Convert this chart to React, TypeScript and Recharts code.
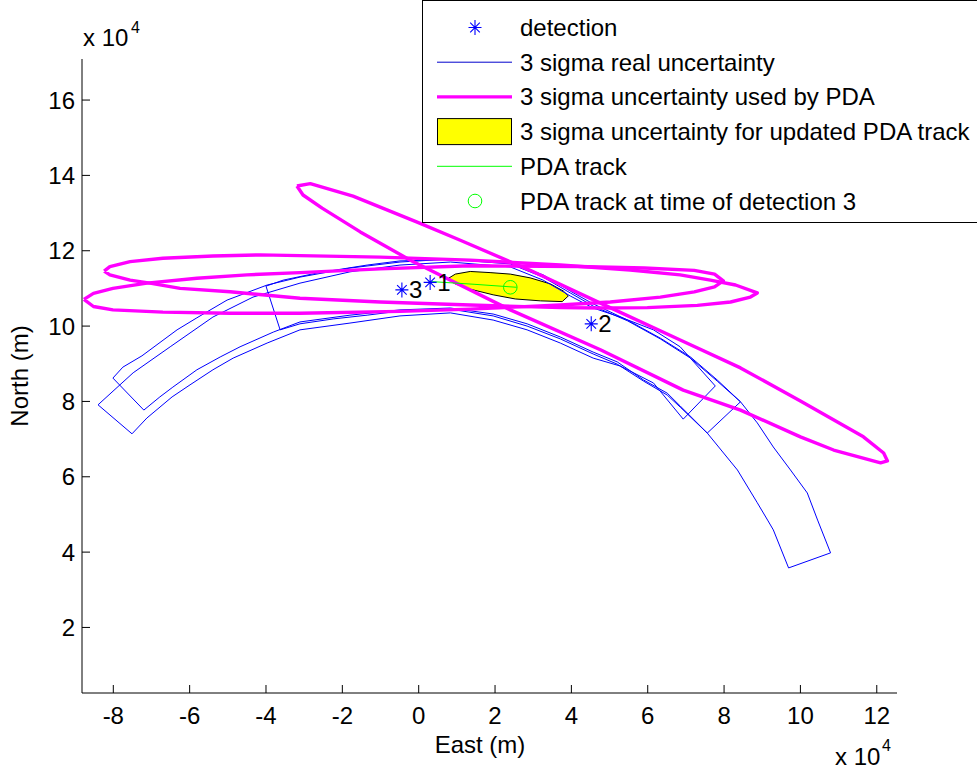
import { Scatter, ScatterChart, XAxis, YAxis } from 'recharts'

// all positions in units of 10^4 m
type Pt = [number, number]

const W = 977
const H = 771
const FONT = '"Liberation Sans", Arial, Helvetica, sans-serif'
const FS = 24

const eastTicks = [-8, -6, -4, -2, 0, 2, 4, 6, 8, 10, 12]
const northTicks = [2, 4, 6, 8, 10, 12, 14, 16]
const eastDomain: [number, number] = [-8.82, 12.53]
const northDomain: [number, number] = [0.26, 17.09]

const detectionEast = [0.3, 4.52, -0.44]
const detectionNorth = [11.16, 10.06, 10.96]
const detectionIds = ['1', '2', '3']

// 3 sigma real uncertainty swaths
const realSwathEarly: Pt[] = [
  [-8.4, 7.91], [-7.48, 8.76], [-6.51, 9.45], [-5.39, 10.24], [-4.34, 10.77], [-3.11, 11.14],
  [-1.8, 11.44], [-0.49, 11.62], [0.83, 11.7], [2.4, 11.57], [3.26, 11.22], [3.97, 10.8],
  [4.57, 10.48], [5.28, 10.24], [6.15, 9.9], [6.85, 9.45], [7.77, 8.41], [6.93, 7.53],
  [6.15, 8.49], [5.28, 8.94], [4.57, 9.15], [3.71, 9.55], [2.84, 9.9], [1.95, 10.16],
  [0.83, 10.35], [-0.49, 10.27], [-1.8, 10.08], [-3.11, 9.9], [-3.97, 9.55], [-4.86, 9.15],
  [-5.39, 8.84], [-5.99, 8.44], [-6.46, 8.12], [-7.12, 7.56], [-7.51, 7.14],
]
const realSwathMid: Pt[] = [
  [-8.01, 8.62], [-7.75, 8.91], [-7.25, 9.21], [-6.33, 9.9], [-5.81, 10.22], [-5.02, 10.69],
  [-3.97, 11.09], [-3.11, 11.3], [-1.8, 11.54], [-0.49, 11.7], [0.83, 11.78], [2.4, 11.67],
  [3.26, 11.36], [3.97, 10.93], [4.57, 10.59], [5.47, 10.16], [6.33, 9.68], [7.12, 9.18],
  [7.82, 8.57], [8.43, 7.99], [7.56, 7.16], [6.85, 7.88], [6.51, 8.22], [5.89, 8.57],
  [5.2, 9.05], [4.57, 9.31], [3.71, 9.71], [2.84, 10.06], [1.95, 10.32], [0.83, 10.48],
  [-0.49, 10.43], [-1.8, 10.29], [-3.11, 10.11], [-3.81, 9.84], [-4.68, 9.45], [-5.2, 9.18],
  [-5.81, 8.84], [-6.44, 8.38], [-6.78, 8.12], [-7.2, 7.77],
]
const realSwathLate: Pt[] = [
  [-4.0, 11.06], [-3.55, 11.22], [-2.66, 11.41], [-1.35, 11.62], [-0.49, 11.73], [0.83, 11.77],
  [2.4, 11.65], [3.26, 11.3], [3.97, 10.88], [4.57, 10.53], [5.47, 10.14], [6.33, 9.66],
  [7.12, 9.15], [7.82, 8.54], [8.43, 7.99], [8.87, 7.43], [9.29, 6.79], [9.74, 6.18],
  [10.18, 5.57], [10.45, 4.85], [10.79, 3.98], [9.69, 3.58], [9.29, 4.59], [9.14, 4.85],
  [8.87, 5.31], [8.35, 6.18], [7.56, 7.16], [6.85, 7.85], [6.51, 8.17], [5.89, 8.54],
  [5.2, 8.99], [4.57, 9.26], [3.71, 9.66], [2.84, 10.0], [1.95, 10.27], [0.83, 10.45],
  [-0.49, 10.4], [-1.35, 10.29], [-2.24, 10.19], [-3.11, 10.06], [-3.63, 9.9],
]

// 3 sigma gates used by the PDA
const pdaGateUpper: Pt[] = [
  [-8.24, 11.46], [-8.09, 11.58], [-7.56, 11.71], [-6.7, 11.8], [-5.39, 11.86], [-4.16, 11.89],
  [-3.11, 11.87], [-1.01, 11.83], [1.35, 11.75], [3.71, 11.62], [5.54, 11.49], [6.85, 11.36],
  [7.64, 11.22], [8.3, 11.09], [8.87, 10.88], [8.69, 10.77], [8.17, 10.64], [7.3, 10.55],
  [5.99, 10.49], [4.76, 10.48], [3.71, 10.49], [1.35, 10.56], [-1.01, 10.64], [-3.11, 10.74],
  [-4.94, 10.91], [-6.25, 11.0], [-7.04, 11.14], [-7.56, 11.22], [-8.09, 11.36],
]
const pdaGateLower: Pt[] = [
  [-8.77, 10.71], [-8.52, 10.87], [-8.01, 11.0], [-7.12, 11.14], [-5.81, 11.27], [-4.5, 11.36],
  [-3.11, 11.42], [-1.01, 11.52], [1.35, 11.6], [4.16, 11.58], [5.91, 11.54], [7.22, 11.48],
  [7.75, 11.38], [7.98, 11.2], [7.75, 11.04], [7.22, 10.91], [6.33, 10.77], [5.02, 10.64],
  [3.71, 10.56], [1.35, 10.45], [-0.49, 10.39], [-3.11, 10.34], [-4.94, 10.34], [-6.7, 10.37],
  [-8.01, 10.43], [-8.52, 10.52],
]
const pdaGateTilted: Pt[] = [
  [-3.19, 13.72], [-2.84, 13.78], [-1.72, 13.45], [-0.04, 12.76], [1.09, 12.28], [2.92, 11.48],
  [4.76, 10.61], [6.85, 9.63], [8.43, 8.89], [10.0, 8.01], [11.65, 7.06], [12.18, 6.63],
  [12.28, 6.42], [12.1, 6.37], [10.87, 6.71], [10.0, 7.06], [8.43, 7.77], [6.93, 8.3],
  [4.76, 9.37], [2.4, 10.43], [-0.22, 11.75], [-1.53, 12.5], [-2.53, 13.13], [-3.03, 13.48],
]

// gate after the PDA update
const updatedGate: Pt[] = [
  [0.75, 11.25], [0.96, 11.38], [1.35, 11.45], [1.87, 11.42], [2.4, 11.38], [2.92, 11.28],
  [3.45, 11.12], [3.79, 10.93], [3.92, 10.8], [3.76, 10.65], [3.19, 10.67], [2.53, 10.72],
  [1.95, 10.83], [1.35, 10.98], [0.96, 11.12],
]

const pdaTrack: Pt[] = [[0.35, 11.18], [1.45, 11.11], [2.57, 11.03]]
const pdaAtDetection3: Pt[] = [[2.4, 11.03]]

const toRows = (pts: Pt[]) => pts.map(([x, y]) => ({ x, y }))
const closed = (pts: Pt[]) => toRows([...pts, pts[0]])

const detections = detectionEast.map((x, i) => ({ x, y: detectionNorth[i], id: detectionIds[i] }))

const NoMarker = () => <g />

const starPath = (cx: number, cy: number) =>
  `M${cx},${cy - 7.5}V${cy + 7.5}M${cx - 6.5},${cy}H${cx + 6.5}` +
  `M${cx - 4.8},${cy - 4.8}L${cx + 4.8},${cy + 4.8}M${cx - 4.8},${cy + 4.8}L${cx + 4.8},${cy - 4.8}`

const DetectionMark = (props: any) => {
  const { cx, cy, payload } = props
  return (
    <g>
      <path d={starPath(cx, cy)} stroke="#0000ff" strokeWidth={1.1} fill="none" />
      <text x={cx + 7} y={cy + 8.5} fontSize={FS} fontFamily={FONT} fill="#000">
        {payload.id}
      </text>
    </g>
  )
}

const CircleMark = (props: any) => (
  <circle cx={props.cx} cy={props.cy} r={6.8} fill="none" stroke="#00ff00" strokeWidth={1} />
)

const tickStyle = { fontSize: FS, fill: '#000', fontFamily: FONT }

const legendRows = [
  'detection',
  '3 sigma real uncertainty',
  '3 sigma uncertainty used by PDA',
  '3 sigma uncertainty for updated PDA track',
  'PDA track',
  'PDA track at time of detection 3',
]

function Legend() {
  const rowY = (i: number) => 27.5 + i * 34.7
  return (
    <g>
      <rect x={422.5} y={0.5} width={600} height={222} fill="#fff" stroke="#000" strokeWidth={1} />
      <path d={starPath(475, rowY(0))} stroke="#0000ff" strokeWidth={1.1} fill="none" />
      <line x1={437} x2={512} y1={rowY(1)} y2={rowY(1)} stroke="#0000cc" strokeWidth={1} />
      <line x1={437} x2={512} y1={rowY(2)} y2={rowY(2)} stroke="#ff00ff" strokeWidth={3.4} />
      <rect x={437.5} y={rowY(3) - 13} width={74} height={26} fill="#ffff00" stroke="#000" strokeWidth={1} />
      <line x1={437} x2={512} y1={rowY(4)} y2={rowY(4)} stroke="#00ff00" strokeWidth={1} />
      <circle cx={475} cy={rowY(5)} r={6.8} fill="none" stroke="#00ff00" strokeWidth={1} />
      {legendRows.map((t, i) => (
        <text key={t} x={520} y={rowY(i) + 8.5} fontSize={FS} fontFamily={FONT} fill="#000">
          {t}
        </text>
      ))}
    </g>
  )
}

export default function App() {
  return (
    <div style={{ position: 'absolute', left: 0, top: 0, width: W, height: H, background: '#fff' }}>
      <ScatterChart width={W} height={H} margin={{ top: 59, right: 80, bottom: 48, left: 22 }}>
        <XAxis
          type="number"
          dataKey="x"
          domain={eastDomain}
          ticks={eastTicks}
          interval={0}
          allowDataOverflow
          height={30}
          tickSize={-8}
          tickMargin={22}
          tick={tickStyle}
          axisLine={{ stroke: '#000' }}
          tickLine={{ stroke: '#000' }}
        />
        <YAxis
          type="number"
          dataKey="y"
          domain={northDomain}
          ticks={northTicks}
          interval={0}
          allowDataOverflow
          width={60}
          tickSize={-8}
          tickMargin={15}
          tick={tickStyle}
          axisLine={{ stroke: '#000' }}
          tickLine={{ stroke: '#000' }}
        />
        <Scatter
          data={closed(updatedGate)}
          line={{ stroke: '#000', strokeWidth: 1, fill: '#ffff00' }}
          lineType="joint"
          shape={<NoMarker />}
          isAnimationActive={false}
        />
        {[realSwathEarly, realSwathMid, realSwathLate].map((s, i) => (
          <Scatter
            key={`swath-${i}`}
            data={closed(s)}
            line={{ stroke: '#0000ff', strokeWidth: 1 }}
            lineType="joint"
            shape={<NoMarker />}
            isAnimationActive={false}
          />
        ))}
        {[pdaGateUpper, pdaGateLower, pdaGateTilted].map((g, i) => (
          <Scatter
            key={`gate-${i}`}
            data={closed(g)}
            line={{ stroke: '#ff00ff', strokeWidth: 3.4, strokeLinejoin: 'round' }}
            lineType="joint"
            shape={<NoMarker />}
            isAnimationActive={false}
          />
        ))}
        <Scatter
          data={toRows(pdaTrack)}
          line={{ stroke: '#00ff00', strokeWidth: 1 }}
          lineType="joint"
          shape={<NoMarker />}
          isAnimationActive={false}
        />
        <Scatter data={toRows(pdaAtDetection3)} shape={<CircleMark />} isAnimationActive={false} />
        <Scatter data={detections} shape={<DetectionMark />} isAnimationActive={false} />
      </ScatterChart>
      <svg
        width={W}
        height={H}
        style={{ position: 'absolute', left: 0, top: 0, pointerEvents: 'none' }}
      >
        <text x={83} y={46} fontSize={FS} fontFamily={FONT}>x 10</text>
        <text x={131} y={33} fontSize={16} fontFamily={FONT}>4</text>
        <text x={835} y={765} fontSize={FS} fontFamily={FONT}>x 10</text>
        <text x={882} y={751} fontSize={16} fontFamily={FONT}>4</text>
        <text x={480} y={753} fontSize={FS} fontFamily={FONT} textAnchor="middle">East (m)</text>
        <text
          x={28}
          y={376}
          fontSize={FS}
          fontFamily={FONT}
          textAnchor="middle"
          transform="rotate(-90 28 376)"
        >
          North (m)
        </text>
        <Legend />
      </svg>
    </div>
  )
}
